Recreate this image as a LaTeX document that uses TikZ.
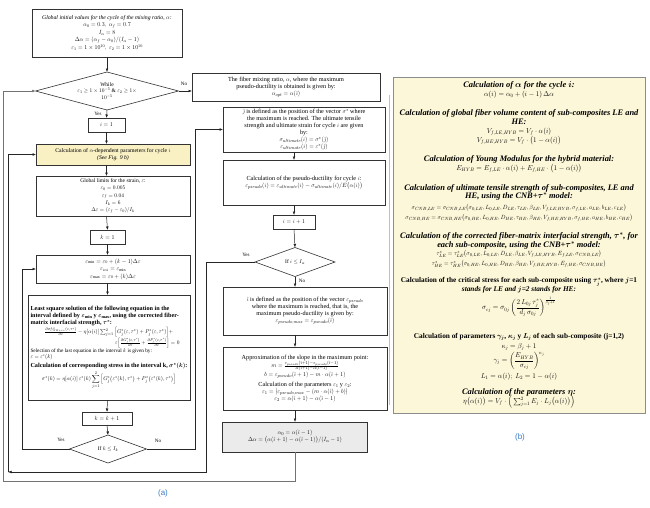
\documentclass[tikz,border=0pt]{standalone}
\usepackage{amsmath}
\usepackage{fontspec}
\setmainfont{Liberation Serif}
\newfontfamily\labfont{Liberation Sans}
\usetikzlibrary{shapes.geometric,arrows.meta,calc}
\definecolor{boxyel}{HTML}{F9F0C4}
\definecolor{panelyel}{HTML}{FCF7D8}
\definecolor{labblue}{HTML}{3B7BC4}
\definecolor{lgray}{HTML}{EBEBEB}
\begin{document}
\begin{tikzpicture}[x=2pt,y=-2pt,
 every node/.style={inner sep=0pt, outer sep=0pt},
 fbox/.style={draw=black!80, line width=1.2pt, fill=white, align=flush center, inner sep=4pt, font=\fontsize{11.5}{15}\selectfont},
 rbox/.style={fbox, font=\fontsize{12.4}{14.2}\selectfont},
 fdia/.style={draw=black!80, line width=1.2pt, fill=white, diamond, inner sep=0pt},
 dtext/.style={align=flush center, font=\fontsize{11}{13.5}\selectfont},
 arr/.style={-{Latex[length=7pt,width=5.5pt]}, line width=1pt, black!85},
 lbl/.style={font=\fontsize{10}{12}\selectfont},
 phead/.style={align=flush center, font=\fontsize{16.8}{17}\selectfont\bfseries\itshape\boldmath},
 pheadu/.style={align=flush center, font=\fontsize{14.6}{17.5}\selectfont\bfseries\boldmath},
 pmath/.style={align=flush center, font=\fontsize{14}{16}\selectfont},
 pmaths/.style={align=flush center, font=\fontsize{12.5}{14}\selectfont},
 sublab/.style={font=\fontsize{16}{18}\labfont, text=labblue},
]
\useasboundingbox (0,0) rectangle (650,507);
\fill[white] (0,0) rectangle (650,507);

% ---------------- left column ----------------
\node[fbox, minimum width=300pt, minimum height=96pt, text width=292pt] (L1) at (107,33)
 {\textit{Global initial values for the cycle of the mixing ratio, $\alpha$:}\\
  $\alpha_0=0.3,\ \alpha_f=0.7$\\ $I_\alpha=8$\\
  $\Delta\alpha=(\alpha_f-\alpha_0)/(I_\alpha-1)$\\
  $\varepsilon_1=1\times10^{10},\ \varepsilon_2=1\times10^{10}$};
\node[fdia, minimum width=286pt, minimum height=76pt] (L2) at (107,91) {};
\node[dtext] (L2t) at (107,91) {While\\ $\varepsilon_1\geq1\times10^{-5}\ \&\ \varepsilon_2\geq1\times$\\ $10^{-5}$};
\node[fbox, minimum width=74pt, minimum height=28pt] (L3) at (106.5,125) {$i=1$};
\node[fbox, fill=boxyel, minimum width=308pt, minimum height=42pt, text width=300pt] (L4) at (113,154.5)
 {Calculation of $\alpha$-dependent parameters for cycle $i$\\ \textit{(See Fig. 9 b)}};
\node[fbox, minimum width=308pt, minimum height=80pt, text width=300pt, font=\fontsize{11}{14.5}\selectfont] (L5) at (113,196)
 {Global limits for the strain, $\varepsilon$:\\ $\varepsilon_0=0.005$\\ $\varepsilon_f=0.04$\\ $I_k=6$\\ $\Delta\varepsilon=(\varepsilon_f-\varepsilon_0)/I_k$};
\node[fbox, minimum width=70pt, minimum height=28pt] (L6) at (107.5,237) {$k=1$};
\node[fbox, minimum width=308pt, minimum height=56pt, text width=300pt] (L7) at (113,269)
 {$\varepsilon_{\min}=\varepsilon_0+(k-1)\Delta\varepsilon$\\ $\varepsilon_{ini}=\varepsilon_{\min}$\\ $\varepsilon_{\max}=\varepsilon_0+(k)\Delta\varepsilon$};
\node[fbox, align=flush left, minimum width=324pt, minimum height=210pt, text width=314pt] (L8) at (109,347.5)
 {{\bfseries\boldmath\fontsize{12.3}{14}\selectfont Least square solution of the following equation in the\\ interval defined by $\varepsilon_{\min}$ y $\varepsilon_{\max}$, using the corrected fiber-\\ matrix interfacial strength, $\tau^*$:\par}
  \vspace{2pt}
  {\fontsize{11}{13}\selectfont
  \centerline{$\frac{\partial\sigma^{LS}_{CNB+\tau^*}(\varepsilon,\tau^*)}{\partial\varepsilon}-\eta[\alpha(i)]\sum_{j=1}^{2}\Big[G_j^*(\varepsilon,\tau^*)+P_j^*(\varepsilon,\tau^*)\Big]+$}
  \rightline{$\varepsilon\Big[\frac{\partial G_j^*(\varepsilon,\tau^*)}{\partial\varepsilon}+\frac{\partial P_j^*(\varepsilon,\tau^*)}{\partial\varepsilon}\Big]=0$\hspace*{16pt}}\par}
  {\fontsize{10.5}{12.5}\selectfont Selection of the last equation in the interval $k$ is given by:\par $\varepsilon=\varepsilon^*(k)$\par}
  \vspace{4pt}
  {\bfseries\boldmath\fontsize{12.4}{15}\selectfont Calculation of corresponding stress in the interval k, $\sigma^*(k)$:\par}
  \vspace{2pt}
  {\fontsize{11}{13}\selectfont
  \centerline{$\sigma^*(k)=\eta[\alpha(i)]\,\varepsilon^*(k)\displaystyle\sum_{j=1}^{2}\Big[G_j^*\big(\varepsilon^*(k),\tau^*\big)+P_j^*\big(\varepsilon^*(k),\tau^*\big)\Big]$}\par}};
\node[fbox, minimum width=100pt, minimum height=26pt] (L9) at (107,418.5) {$k=k+1$};
\node[fdia, minimum width=154pt, minimum height=56pt] (L10) at (108,449) {};
\node[dtext] (L10t) at (108,449) {If $k\leq I_k$};

% ---------------- right column ----------------
\node[rbox, minimum width=376pt, minimum height=56pt, text width=270pt] (R1) at (286,87)
 {The fiber mixing ratio, $\alpha$, where the maximum\\ pseudo-ductility is obtained is given by:\\ $\alpha_{opt}=\alpha(\hat{\imath})$};
\node[rbox, minimum width=324pt, minimum height=90pt, text width=290pt] (R2) at (304,129.5)
 {$\hat{\jmath}$ is defined as the position of the vector $\sigma^*$ where\\ the maximum is reached. The ultimate tensile\\ strength and ultimate strain for cycle $i$ are given\\ by:\\
  $\sigma_{ultimate}(i)=\sigma^*(\hat{\jmath})$\\ $\varepsilon_{ultimate}(i)=\varepsilon^*(\hat{\jmath})$};
\node[rbox, minimum width=324pt, minimum height=90pt, text width=300pt] (R3) at (304,182.5)
 {Calculation of the pseudo-ductility for cycle $i$:\\
  $\varepsilon_{pseudo}(i)=\varepsilon_{ultimate}(i)-\sigma_{ultimate}(i)/E\big(\alpha(i)\big)$};
\node[rbox, minimum width=84pt, minimum height=28pt] (R4) at (294,222) {$i=i+1$};
\node[fdia, minimum width=160pt, minimum height=58pt] (R5) at (295,262) {};
\node[dtext] (R5t) at (295,262) {If $i\leq I_\alpha$};
\node[rbox, minimum width=328pt, minimum height=96pt, text width=290pt] (R6) at (305,311)
 {$\hat{\imath}$ is defined as the position of the vector $\varepsilon_{pseudo}$\\ where the maximum is reached, that is, the\\ maximum pseudo-ductility is given by:\\
  $\varepsilon_{pseudo,max}=\varepsilon_{pseudo}(\hat{\imath})$};
\node[rbox, minimum width=328pt, minimum height=126pt, text width=300pt, line width=1.8pt] (R7) at (305,378.5)
 {Approximation of the slope in the maximum point:\\
  $m=\frac{\varepsilon_{pseudo}(\hat{\imath}+1)-\varepsilon_{pseudo}(\hat{\imath}-1)}{\alpha(\hat{\imath}+1)-\alpha(\hat{\imath}-1)}$\\
  $b=\varepsilon_{pseudo}(\hat{\imath}+1)-m\cdot\alpha(\hat{\imath}+1)$\\[6pt]
  Calculation of the parameters $\varepsilon_1$ y $\varepsilon_2$:\\
  $\varepsilon_1=\big|\varepsilon_{pseudo,max}-(m\cdot\alpha(\hat{\imath})+b)\big|$\\
  $\varepsilon_2=\alpha(\hat{\imath}+1)-\alpha(\hat{\imath}-1)$};
\node[rbox, fill=lgray, minimum width=290pt, minimum height=60pt, text width=280pt] (R8) at (295,437)
 {$\alpha_0=\alpha(\hat{\imath}-1)$\\
  $\Delta\alpha=\big(\alpha(\hat{\imath}+1)-\alpha(\hat{\imath}-1)\big)/(I_\alpha-1)$};

% ---------------- connectors ----------------
\coordinate (nk) at (195,449);
\coordinate (yk) at (22,449);
\coordinate (yi) at (206,262);
\coordinate (o1) at (206,472);
\coordinate (o2) at (8,472);
\coordinate (w1) at (295,481);
\coordinate (w2) at (3,481);

\draw[arr] (L1.south) -- (L2.north);
\draw[arr] (L2.south) -- (L3.north);
\draw[arr] (L3.south) -- (L3.south |- L4.north);
\draw[arr] (L3.south |- L4.south) -- (L3.south |- L5.north);
\draw[arr] (L3.south |- L5.south) -- (L6.north);
\draw[arr] (L6.south) -- (L6.south |- L7.north);
\draw[arr] (L6.south |- L7.south) -- (L6.south |- L8.north);
\draw[arr] (L6.south |- L8.south) -- (L9.north);
\draw[arr] (L9.south) -- (L10.north);
\draw[arr] (L10.west) -- (yk) |- (L7.west);
\draw[arr] (L10.east) -- (nk) |- (R2.west);
\draw[arr] (L2.east) -- (L2.east -| R1.west);

\draw[arr] (R4.north |- R2.south) -- (R4.north |- R3.north);
\draw[arr] (R4.north |- R3.south) -- (R4.north);
\draw[arr] (R4.south) -- (R5.north);
\draw[arr] (R5.south) -- (R5.south |- R6.north);
\draw[arr] (R5.south |- R6.south) -- (R5.south |- R7.north);
\draw[arr] (R5.south |- R7.south) -- (R8.north);
\draw[arr] (R5.west) -- (yi) -- (o1) -- (o2);
\draw[arr] (o2) |- (L4.west);
\draw[arr, black!55] (R8.south) -- (w1) -- (w2) |- (L2.west);
\draw[black!25, line width=1pt] (389,95) -- (389,405);

\node[lbl] (tNo1) at (184,84) {No};
\node[lbl] (tYes1) at (98,114) {Yes};
\node[lbl] (tYes2) at (61,440) {Yes};
\node[lbl] (tNo2) at (158,441) {No};
\node[lbl] (tYes3) at (246,255) {Yes};
\node[lbl] (tNo3) at (302,281) {No};

% ---------------- panel (b) ----------------
\node[draw=black!45, line width=1pt, fill=panelyel, minimum width=504pt, minimum height=672pt] (B) at (519,245) {};
\node[phead] (b1) at (519,85) {Calculation of $\alpha$ for the cycle $i$:};
\node[pmath] (b2) at (519,94.5) {$\alpha(i)=\alpha_0+(i-1)\,\Delta\alpha$};
\node[phead] (b3) at (519,117) {Calculation of global fiber volume content of sub-composites LE and\\ HE:};
\node[pmath] (b5) at (519,132) {$V_{f,LE,HYB}=V_f\cdot\alpha(i)$};
\node[pmath] (b6) at (519,141) {$V_{f,HE,HYB}=V_f\cdot\big(1-\alpha(i)\big)$};
\node[phead] (b7) at (519,159) {Calculation of Young Modulus for the hybrid material:};
\node[pmath] (b8) at (519,169) {$E_{HYB}=E_{f,LE}\cdot\alpha(i)+E_{f,HE}\cdot\big(1-\alpha(i)\big)$};
\node[phead] (b9) at (519,192.5) {Calculation of ultimate tensile strength of sub-composites, LE and\\ HE, using the CNB+$\tau^*$ model:};
\node[pmaths] (b11) at (519,208) {$\sigma_{CNB,LE}=\sigma_{CNB,LE}\big(\sigma_{0,LE},L_{0,LE},D_{LE},\tau_{LE},\beta_{LE},V_{f,LE,HYB},\sigma_{f,LE},a_{LE},b_{LE},c_{LE}\big)$};
\node[pmaths] (b12) at (519,218) {$\sigma_{CNB,HE}=\sigma_{CNB,HE}\big(\sigma_{0,HE},L_{0,HE},D_{HE},\tau_{HE},\beta_{HE},V_{f,HE,HYB},\sigma_{f,HE},a_{HE},b_{HE},c_{HE}\big)$};
\node[phead] (b13) at (519,241) {Calculation of the corrected fiber-matrix interfacial strength, $\tau^*$, for\\ each sub-composite, using the CNB+$\tau^*$ model:};
\node[pmaths] (b15) at (519,254) {$\tau^*_{LE}=\tau^*_{LE}\big(\sigma_{0,LE},L_{0,LE},D_{LE},\beta_{LE},V_{f,LE,HYB},E_{f,LE},\sigma_{CNB,LE}\big)$};
\node[pmaths] (b16) at (519,264) {$\tau^*_{HE}=\tau^*_{HE}\big(\sigma_{0,HE},L_{0,HE},D_{HE},\beta_{HE},V_{f,HE,HYB},E_{f,HE},\sigma_{CNB,HE}\big)$};
\node[pheadu] (b17) at (519,285.5) {Calculation of the critical stress for each sub-composite using $\tau^*_j$, where $j$=1\\ \textit{stands for LE and $j$=2 stands for HE:}};
\node[pmath] (b19) at (519,307) {$\sigma_{cj}=\sigma_{0j}\left(\dfrac{2\,L_{0j}\,\tau^*_j}{d_j\,\sigma_{0j}}\right)^{\frac{1}{\beta_j+1}}$};
\node[pheadu] (b20) at (519,337) {Calculation of parameters $\gamma_j$, $\kappa_j$ y $L_j$ of each sub-composite (j=1,2)};
\node[pmath] (b21) at (519,347) {$\kappa_j=\beta_j+1$};
\node[pmath] (b22) at (519,361) {$\gamma_j=\left(\dfrac{E_{HYB}}{\sigma_{cj}}\right)^{\kappa_j}$};
\node[pmath] (b23) at (519,377) {$L_1=\alpha(i);\ L_2=1-\alpha(i)$};
\node[phead] (b24) at (519,392) {Calculation of the parameters $\eta$:};
\node[pmath] (b25) at (519,402) {$\eta\big(\alpha(i)\big)=V_f\cdot\Big(\sum_{j=1}^{2}E_j\cdot L_j\big(\alpha(i)\big)\Big)$};

\node[sublab] (la) at (163,493) {(a)};
\node[sublab] (lb) at (520,437) {(b)};
\end{tikzpicture}
\end{document}
